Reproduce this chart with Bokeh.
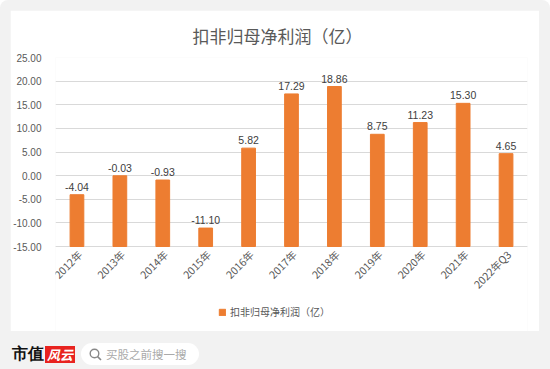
import math
from bokeh.plotting import figure
from bokeh.models import (FactorRange, Range1d, FixedTicker, PrintfTickFormatter,
                          Legend, LegendItem, ColumnDataSource, Div)
from bokeh.layouts import column
from bokeh.embed import file_html
from bokeh.resources import INLINE
from bokeh.core.properties import value

# ---- data ----
categories = ["2012年", "2013年", "2014年", "2015年", "2016年", "2017年",
              "2018年", "2019年", "2020年", "2021年", "2022年Q3"]
profits = [-4.04, -0.03, -0.93, -11.10, 5.82, 17.29, 18.86, 8.75, 11.23, 15.30, 4.65]
y_ticks = [-15, -10, -5, 0, 5, 10, 15, 20, 25]
y_min, y_max = -15, 25
series_name = "扣非归母净利润（亿）"
title_text = "扣非归母净利润（亿）"
logo_left = "市值"
logo_right = "风云"
search_text = "买股之前搜一搜"

TEXT = "#595959"
BAR = "#ed7d31"
GRID = "#d9d9d9"
BG = "#f2f2f2"
CJK = "Noto Sans CJK SC"

W, H = 529, 321
TOP, LEFT, RIGHT = 47, 45, 12
AXIS_PX = 189                      # pixel height of the value axis (-15 .. 25)
units_per_px = (y_max - y_min) / AXIS_PX
frame_h = H - TOP
y_bottom = y_max - frame_h * units_per_px   # room below the axis for category labels & legend

src = ColumnDataSource(dict(cat=categories, val=profits,
                            base=[y_min] * len(profits),
                            lab=[f"{v:.2f}" for v in profits]))
cat_src = ColumnDataSource(dict(cat=categories, y=[y_min] * len(categories)))

p = figure(width=W, height=H,
           x_range=FactorRange(*categories, range_padding=0),
           y_range=Range1d(y_bottom, y_max),
           output_backend="svg", toolbar_location=None,
           x_axis_location=None,
           min_border_left=LEFT, min_border_right=RIGHT,
           min_border_top=TOP, min_border_bottom=0,
           background_fill_color="white", border_fill_color="white")
p.outline_line_color = None

p.title.text = title_text
p.title.align = "left"
p.title.offset = 137
p.title.text_font = CJK
p.title.text_font_size = "17px"
p.title.text_font_style = "normal"
p.title.text_color = TEXT
p.title.standoff = 19

# baseline (category axis line)
p.hspan(y=[y_min], line_color=GRID, line_width=1)

bars = p.vbar(x="cat", top="val", bottom="base", width=0.32, source=src,
              fill_color=BAR, line_color=BAR)
p.text(x="cat", y="val", text="lab", source=src, y_offset=-4,
       text_align="center", text_baseline="bottom",
       text_font=value("Liberation Sans"), text_font_size="10.5px", text_color="#404040")

# rotated category labels under the axis line
p.text(x="cat", y="y", text="cat", source=cat_src, angle=math.pi / 4,
       x_offset=3, y_offset=6, text_align="right", text_baseline="middle",
       text_font=value(CJK), text_font_size="10.5px", text_color=TEXT)

p.yaxis.ticker = FixedTicker(ticks=y_ticks)
p.yaxis.formatter = PrintfTickFormatter(format="%.2f")
p.yaxis.axis_line_color = None
p.yaxis.major_tick_line_color = None
p.yaxis.minor_tick_line_color = None
p.yaxis.major_label_text_font = "Liberation Sans"
p.yaxis.major_label_text_font_size = "10px"
p.yaxis.major_label_text_color = TEXT
p.yaxis.major_label_standoff = 8

p.ygrid.ticker = FixedTicker(ticks=y_ticks)
p.ygrid.grid_line_color = GRID
p.xgrid.grid_line_color = None

legend = Legend(items=[LegendItem(label=series_name, renderers=[bars])],
                orientation="horizontal", location=(163, 12),
                border_line_color=None, background_fill_alpha=0,
                label_text_font=CJK, label_text_font_size="10px",
                label_text_color=TEXT, glyph_width=8, glyph_height=8,
                label_standoff=4, margin=0, padding=2)
p.add_layout(legend)
p.margin = (10, 11, 0, 10)

# ---- footer strip (logo + search box) ----
mag = ('<svg width="13" height="13" viewBox="0 0 13 13" style="margin-right:4px">'
       '<circle cx="5.5" cy="5.5" r="4.3" fill="none" stroke="#888" stroke-width="1.4"/>'
       '<line x1="8.6" y1="8.6" x2="12" y2="12" stroke="#888" stroke-width="1.6"/></svg>')
html = (
    f'<div style="display:flex;align-items:center;height:38px;padding:8px 0 0 12px;'
    f'box-sizing:border-box;background:{BG};font-family:\'{CJK}\';">'
    f'<span style="font-weight:bold;font-size:16px;color:#111;font-family:serif;">{logo_left}</span>'
    f'<span style="background:#e8231f;color:#fff;font-style:italic;font-weight:bold;'
    f'font-size:13px;line-height:17px;padding:0 2px;margin-left:1px;">{logo_right}</span>'
    f'<span style="display:flex;align-items:center;margin-left:6px;background:#fff;'
    f'border-radius:11px;height:22px;padding:0 12px 0 8px;color:#aaa;font-size:11.5px;">'
    f'{mag}{search_text}</span></div>'
)
footer = Div(text=html, width=550, height=38, margin=0,
             styles={"background-color": BG})

layout = column(p, footer, spacing=0,
                styles={"background-color": BG, "border-radius": "8px"})

open("out.html", "w").write(file_html(layout, INLINE))
